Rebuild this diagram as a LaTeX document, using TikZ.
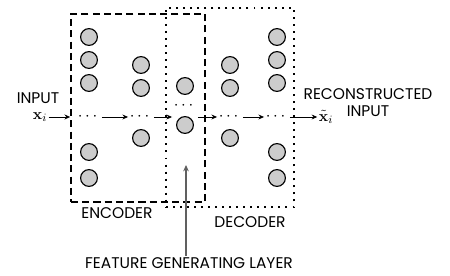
\documentclass[tikz,border=0pt]{standalone}
\usepackage{amsmath}
\usepackage[no-math]{fontspec}
\setmainfont{Poppins}
\usepackage{tikz}
\usetikzlibrary{arrows.meta, positioning, calc}

\begin{document}
\begin{tikzpicture}[
    neu/.style={circle, draw, line width=0.8pt, fill=gray!40, minimum size=0.42cm, inner sep=0pt},
    lbl/.style={font=\fontsize{11}{12}\selectfont, inner sep=1pt},
    dts/.style={inner sep=1pt, font=\large},
    arr/.style={-{Stealth[length=4pt, width=3.5pt]}, semithick},
    encbox/.style={draw, line width=1.2pt, dash pattern=on 5pt off 3pt, minimum width=3.35cm, minimum height=4.7cm, inner sep=0pt},
    decbox/.style={draw, line width=1.2pt, dash pattern=on 1.4pt off 3.6pt, minimum width=3.2cm, minimum height=4.975cm, inner sep=0pt},
]
    \useasboundingbox (0,0) rectangle (11.25,6.9);

    % boxes
    \node[encbox] (enc) at (3.45,4.2) {};
    \node[decbox] (dec) at (5.75,4.2125) {};

    % encoder layers
    \node[neu] (a1) at (2.225,5.975) {};
    \node[neu] (a2) at (2.225,5.4) {};
    \node[neu] (a3) at (2.225,4.825) {};
    \node[neu] (a4) at (2.225,3.1) {};
    \node[neu] (a5) at (2.225,2.45) {};
    \node[neu] (b1) at (3.525,5.275) {};
    \node[neu] (b2) at (3.525,4.7) {};
    \node[neu] (b3) at (3.525,3.45) {};

    % middle layer
    \node[neu] (m1) at (4.625,4.75) {};
    \node[dts] (dm) at (4.625,4.25) {$\cdots$};
    \node[neu] (m2) at (4.625,3.775) {};

    % decoder layers
    \node[neu] (c1) at (5.75,5.275) {};
    \node[neu] (c2) at (5.75,4.7) {};
    \node[neu] (c3) at (5.75,3.45) {};
    \node[neu] (e1) at (6.925,5.975) {};
    \node[neu] (e2) at (6.925,5.4) {};
    \node[neu] (e3) at (6.925,4.825) {};
    \node[neu] (e4) at (6.925,3.1) {};
    \node[neu] (e5) at (6.925,2.45) {};

    % dots row
    \node[dts] (da) at (2.225,3.975) {$\cdots$};
    \node[dts] (db) at (3.525,3.975) {$\cdots$};
    \node[dts] (dc) at (5.75,3.975) {$\cdots$};
    \node[dts] (de) at (6.925,3.975) {$\cdots$};

    % input / output
    \node[lbl] (inp) at (0.95,4.45) {INPUT};
    \node[lbl] (xin) at (1.0,3.975) {$\mathbf{x}_i$};
    \node[lbl] (xout) at (8.15,3.975) {$\tilde{\mathbf{x}}_i$};
    \node[lbl] (rec) at (9.2,4.55) {RECONSTRUCTED};
    \node[lbl] (recin) at (9.2,4.12) {INPUT};

    \draw[arr] (xin) -- (xin -| enc.west);
    \draw[arr] (da) -- (db);
    \draw[arr] (db) -- ($(db -| m2.west)+(-0.1,0)$);
    \draw[arr] ($(db -| m2.east)+(0.1,0)$) -- (dc);
    \draw[arr] (dc) -- (de);
    \draw[arr] (de) -- (xout);

    % labels below
    \node[lbl] (enclbl) at (2.925,1.575) {ENCODER};
    \node[lbl] (declbl) at (6.25,1.35) {DECODER};
    \node[lbl] (feat) at (4.725,0.325) {FEATURE GENERATING LAYER};
    \coordinate (ftip) at (4.65,2.775);
    \draw[-{Stealth[length=4.5pt, width=4pt]}, line width=0.9pt, gray!75!black] (feat.north -| ftip) -- (ftip);
\end{tikzpicture}
\end{document}
